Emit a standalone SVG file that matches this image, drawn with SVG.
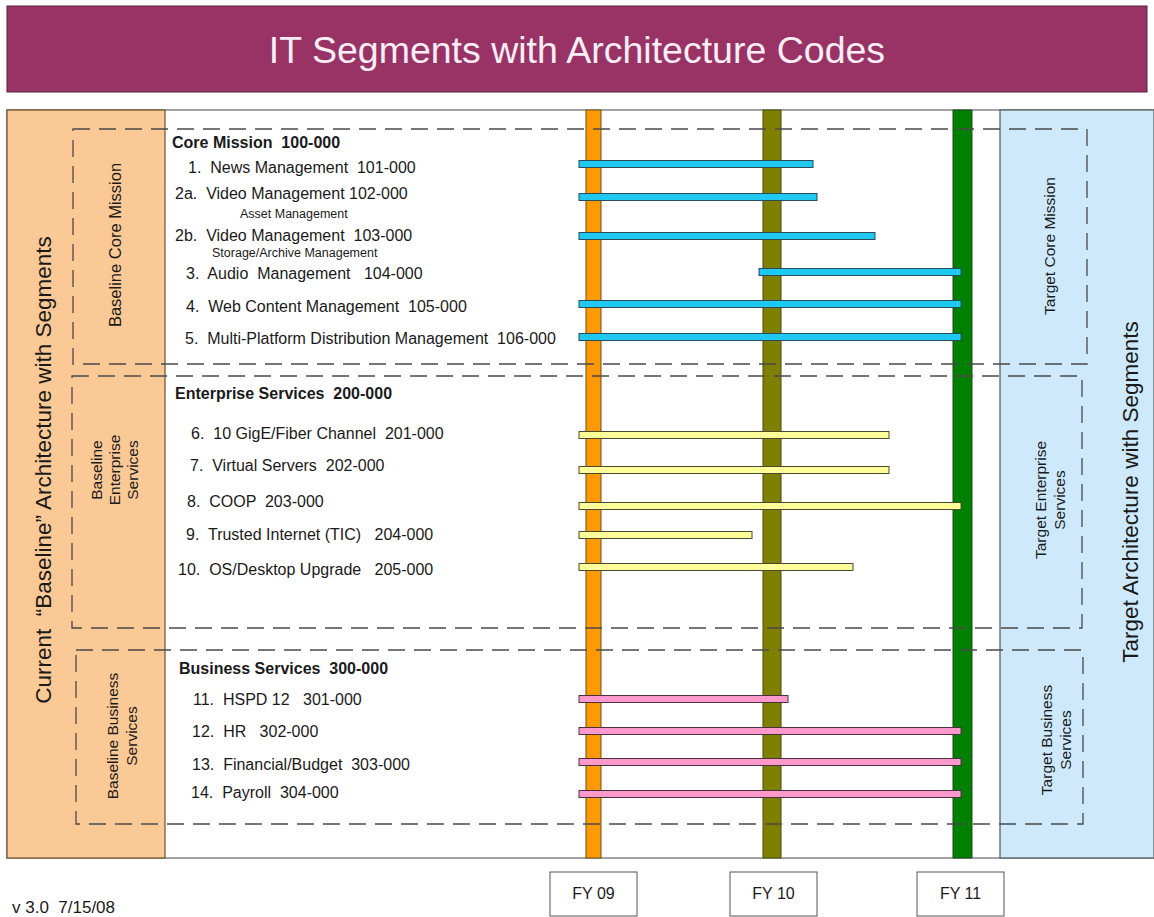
<svg xmlns="http://www.w3.org/2000/svg" width="1154" height="917" viewBox="0 0 1154 917">
<style>
text{font-family:"Liberation Sans",Arial,sans-serif;fill:#1a1a1a}
.item{font-size:16px}
.head{font-size:16px;font-weight:bold}
.small{font-size:12.5px}
.side{font-size:15.5px}
.sidec{font-size:16.5px}
.big{font-size:22.5px}
.dash{fill:none;stroke:#4a4a4a;stroke-width:1.3;stroke-dasharray:17 9}
.b1{fill:#1ec8f0;stroke:#2b4a5a;stroke-width:1}
.b2{fill:#ffff99;stroke:#4a4a30;stroke-width:1}
.b3{fill:#ff99cc;stroke:#4a3040;stroke-width:1}
.fy{fill:#fff;stroke:#555;stroke-width:1}
.fyt{font-size:16px;text-anchor:middle}
</style>
<rect width="1154" height="917" fill="#fff"/>
<g id="title">
<rect x="7" y="6" width="1140" height="86" fill="#993366" stroke="#5a2040" stroke-width="1"/>
<text x="577" y="63" text-anchor="middle" style="font-size:37.5px;fill:#fbeef5">IT Segments with Architecture Codes</text>
</g>
<g id="frame">
<rect x="7" y="110" width="1147" height="748" fill="#fff" stroke="#666" stroke-width="1.2"/>
<rect x="7" y="110" width="158" height="748" fill="#fbc996" stroke="#6b5030" stroke-width="1.2"/>
<rect x="1000" y="110" width="154" height="748" fill="#cde9fb" stroke="#555" stroke-width="1.2"/>
</g>
<g id="timeline">
<rect x="586" y="110" width="15" height="748" fill="#ff9900" stroke="#6b5020" stroke-width="1"/>
<rect x="763" y="110" width="18" height="748" fill="#808000" stroke="#4a4a10" stroke-width="1"/>
<rect x="953" y="110" width="19" height="748" fill="#008000" stroke="#1e4a1e" stroke-width="1"/>
</g>
<g id="segments">
<rect class="dash" x="73" y="129" width="1014" height="235"/>
<rect class="dash" x="72" y="376" width="1010" height="252"/>
<rect class="dash" x="76" y="650" width="1007" height="174"/>
</g>
<g id="bars">
<rect class="b1" x="579" y="160.5" width="234" height="7"/>
<rect class="b1" x="579" y="193.5" width="238" height="7"/>
<rect class="b1" x="579" y="232.5" width="296" height="7"/>
<rect class="b1" x="759" y="268.5" width="202" height="7"/>
<rect class="b1" x="579" y="300.5" width="382" height="7"/>
<rect class="b1" x="579" y="333.5" width="382" height="7"/>
<rect class="b2" x="579" y="431.5" width="310" height="7"/>
<rect class="b2" x="579" y="466.5" width="310" height="7"/>
<rect class="b2" x="579" y="502.5" width="382" height="7"/>
<rect class="b2" x="579" y="531.5" width="173" height="7"/>
<rect class="b2" x="579" y="563.5" width="274" height="7"/>
<rect class="b3" x="579" y="695.5" width="209" height="7"/>
<rect class="b3" x="579" y="727.5" width="382" height="7"/>
<rect class="b3" x="579" y="758.5" width="382" height="7"/>
<rect class="b3" x="579" y="790.5" width="382" height="7"/>
</g>
<g id="core-mission">
<text class="head" x="172" y="148" xml:space="preserve">Core Mission  100-000</text>
<text class="item" x="188" y="173" xml:space="preserve">1.  News Management  101-000</text>
<text class="item" x="175" y="199" xml:space="preserve">2a.  Video Management 102-000</text>
<text class="small" x="240" y="218">Asset Management</text>
<text class="item" x="175" y="241" xml:space="preserve">2b.  Video Management  103-000</text>
<text class="small" x="212" y="257">Storage/Archive Management</text>
<text class="item" x="186" y="279" xml:space="preserve">3.  Audio  Management   104-000</text>
<text class="item" x="186" y="312" xml:space="preserve">4.  Web Content Management  105-000</text>
<text class="item" x="185" y="344" xml:space="preserve">5.  Multi-Platform Distribution Management  106-000</text>
</g>
<g id="enterprise-services">
<text class="head" x="175" y="399" xml:space="preserve">Enterprise Services  200-000</text>
<text class="item" x="191" y="439" xml:space="preserve">6.  10 GigE/Fiber Channel  201-000</text>
<text class="item" x="190" y="471" xml:space="preserve">7.  Virtual Servers  202-000</text>
<text class="item" x="187" y="507" xml:space="preserve">8.  COOP  203-000</text>
<text class="item" x="186" y="540" xml:space="preserve">9.  Trusted Internet (TIC)   204-000</text>
<text class="item" x="178" y="575" xml:space="preserve">10.  OS/Desktop Upgrade   205-000</text>
</g>
<g id="business-services">
<text class="head" x="179" y="674" xml:space="preserve">Business Services  300-000</text>
<text class="item" x="193" y="705" xml:space="preserve">11.  HSPD 12   301-000</text>
<text class="item" x="192" y="737" xml:space="preserve">12.  HR   302-000</text>
<text class="item" x="192" y="770" xml:space="preserve">13.  Financial/Budget  303-000</text>
<text class="item" x="191" y="798" xml:space="preserve">14.  Payroll  304-000</text>
</g>
<g id="baseline-labels">
<text class="big" transform="translate(51,470) rotate(-90)" text-anchor="middle" xml:space="preserve">Current  “Baseline” Architecture with Segments</text>
<text class="sidec" transform="translate(121,245) rotate(-90)" text-anchor="middle">Baseline Core Mission</text>
<text class="side" transform="translate(102,470) rotate(-90)" text-anchor="middle">Baseline</text>
<text class="side" transform="translate(120,470) rotate(-90)" text-anchor="middle">Enterprise</text>
<text class="side" transform="translate(138,470) rotate(-90)" text-anchor="middle">Services</text>
<text class="side" transform="translate(118,736) rotate(-90)" text-anchor="middle">Baseline Business</text>
<text class="side" transform="translate(137,736) rotate(-90)" text-anchor="middle">Services</text>
</g>
<g id="target-labels">
<text class="big" transform="translate(1138,492) rotate(-90)" text-anchor="middle">Target Architecture with Segments</text>
<text class="side" transform="translate(1055,246) rotate(-90)" text-anchor="middle">Target Core Mission</text>
<text class="side" transform="translate(1046,500) rotate(-90)" text-anchor="middle">Target Enterprise</text>
<text class="side" transform="translate(1065,500) rotate(-90)" text-anchor="middle">Services</text>
<text class="side" transform="translate(1052,740) rotate(-90)" text-anchor="middle">Target Business</text>
<text class="side" transform="translate(1071,740) rotate(-90)" text-anchor="middle">Services</text>
</g>
<g id="fy-labels">
<rect class="fy" x="550" y="872" width="87" height="44"/>
<text class="fyt" x="593.5" y="899">FY 09</text>
<rect class="fy" x="730" y="872" width="87" height="44"/>
<text class="fyt" x="773.5" y="899">FY 10</text>
<rect class="fy" x="917" y="872" width="87" height="44"/>
<text class="fyt" x="960.5" y="899">FY 11</text>
</g>
<text x="12" y="913" style="font-size:17px" xml:space="preserve">v 3.0  7/15/08</text>
</svg>
